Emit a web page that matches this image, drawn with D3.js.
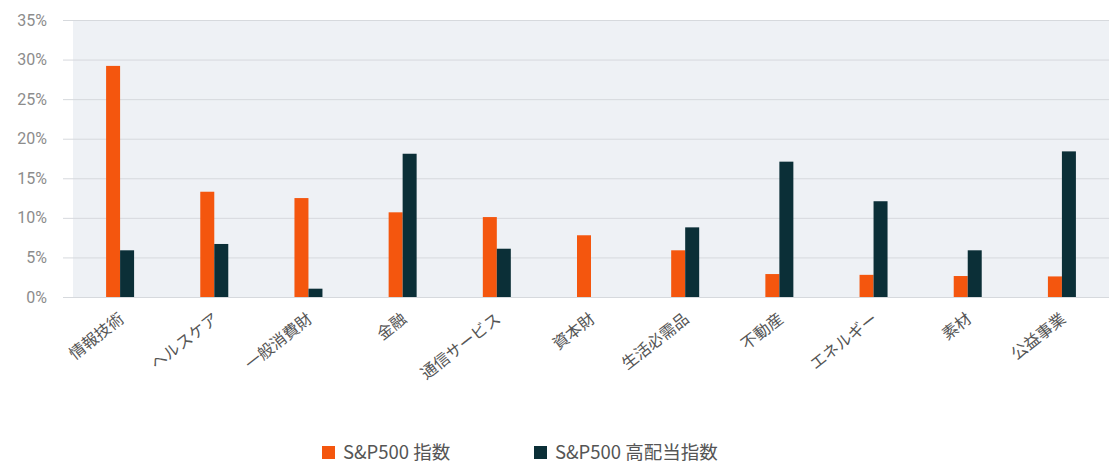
<!DOCTYPE html>
<html>
<head>
<meta charset="utf-8">
<script src="https://cdn.jsdelivr.net/npm/d3@7"></script>
<style>
  body { margin: 0; background: #fff; }
  svg text { font-family: "Noto Sans CJK JP", "Noto Sans", sans-serif; }
</style>
</head>
<body>
<svg id="chart" width="1114" height="463"></svg>
<script>
const categories = ['情報技術','ヘルスケア','一般消費財','金融','通信サービス','資本財','生活必需品','不動産','エネルギー','素材','公益事業']
const spIndex = [29.2, 13.3, 12.5, 10.7, 10.1, 7.8, 5.9, 2.9, 2.8, 2.65, 2.6]
const spHighDiv = [5.9, 6.7, 1.05, 18.1, 6.1, 0, 8.8, 17.1, 12.1, 5.9, 18.4]
const seriesNames = ['S&P500 指数', 'S&P500 高配当指数']
const colors = ['#f4560e', '#0b2f37']
const yTicks = [0, 5, 10, 15, 20, 25, 30, 35]

const svg = d3.select('#chart')
const plotL = 73, plotR = 1109, plotT = 20, plotB = 297

const x = d3.scaleBand().domain(categories).range([plotL, plotR])
const y = d3.scaleLinear().domain([0, 35]).range([plotB, plotT])
const barW = 14

svg.append('rect')
  .attr('x', plotL).attr('y', plotT)
  .attr('width', plotR - plotL).attr('height', plotB - plotT)
  .attr('fill', '#eef1f5')

// gridlines + y labels
const yAxis = svg.append('g')
  .attr('transform', `translate(${plotL},0)`)
  .call(d3.axisLeft(y).tickValues(yTicks).tickSize(-(plotR - plotL)).tickPadding(26).tickFormat(d => d + '%'))
yAxis.select('.domain').remove()
yAxis.selectAll('.tick line')
  .attr('x1', -10)
  .attr('stroke', '#d6d9dd')
yAxis.selectAll('.tick text')
  .attr('fill', '#8c8c8c')
  .style('font-size', '16px')
  .style('font-family', 'Roboto, "Noto Sans", sans-serif')

const groups = svg.append('g').selectAll('g')
  .data(categories)
  .join('g')
  .attr('transform', d => `translate(${x(d) + x.bandwidth() / 2},0)`)

groups.append('rect')
  .attr('x', -barW)
  .attr('width', barW)
  .attr('y', (d, i) => y(spIndex[i]))
  .attr('height', (d, i) => y(0) - y(spIndex[i]))
  .attr('fill', colors[0])

groups.append('rect')
  .attr('x', 0)
  .attr('width', barW)
  .attr('y', (d, i) => y(spHighDiv[i]))
  .attr('height', (d, i) => y(0) - y(spHighDiv[i]))
  .attr('fill', colors[1])

// category labels
groups.append('text')
  .attr('transform', `translate(5,${plotB + 24}) rotate(-38)`)
  .attr('text-anchor', 'end')
  .attr('fill', '#555')
  .style('font-size', '16px')
  .text(d => d)

// legend
const legendX = [322, 534]
const legend = svg.append('g').selectAll('g')
  .data(seriesNames)
  .join('g')
  .attr('transform', (d, i) => `translate(${legendX[i]},446)`)
legend.append('rect')
  .attr('width', 13).attr('height', 13)
  .attr('fill', (d, i) => colors[i])
legend.append('text')
  .attr('x', 21).attr('y', 13)
  .attr('fill', '#555')
  .style('font-size', '18.5px')
  .text(d => d)
</script>
</body>
</html>
